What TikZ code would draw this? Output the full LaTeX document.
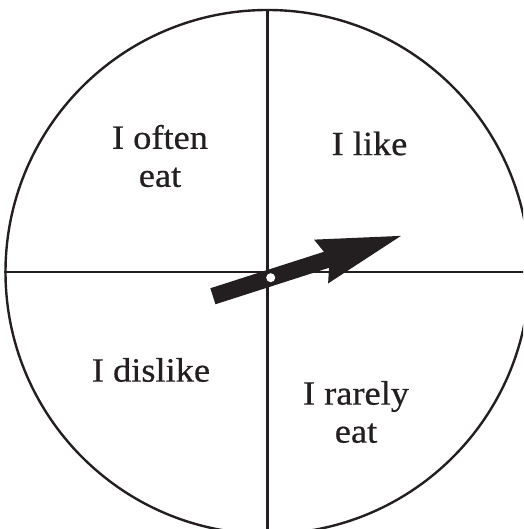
\documentclass[tikz,border=0pt]{standalone}
\usepackage{fontspec}
\setmainfont{Liberation Serif}[FakeStretch=1.07,FakeBold=0.6]
\usepackage{xcolor}
\usepackage{tikz}
\usetikzlibrary{shapes.geometric,positioning,calc}
\definecolor{spinnerInk}{HTML}{231F20}

\begin{document}
\begin{tikzpicture}[x=1pt,y=-1pt,
    rim/.style={draw=spinnerInk, line width=2.4pt},
    sector/.style={text=spinnerInk, align=center, inner sep=0pt,
                   font=\fontsize{34}{38}\selectfont}]
  \useasboundingbox (0,0) rectangle (523,529);
  \clip (0,0) rectangle (523,529);

  % the spinner face
  \node[circle, rim, minimum size=524pt, inner sep=0pt] (wheel) at (267.5,272) {};
  \draw[rim] (wheel.north) -- (wheel.south);
  \draw[rim] (wheel.west) -- (wheel.east);

  % quarters
  \node[sector] (often)   at (160,156)   {I often\\eat};
  \node[sector] (like)    at (369.5,143.5) {I like};
  \node[sector] (dislike) at (151,370)   {I dislike};
  \node[sector] (rarely)  at (356,412)   {I rarely\\eat};

  % pointer
  \begin{scope}[shift={(270.7,277.7)}, rotate=17.8]
    \fill[spinnerInk] (-60.7,-8.4) -- (58.6,-8.4) -- (52.9,-23) -- (136.8,0)
      -- (52.9,23) -- (58.6,8.4) -- (-60.7,8.4) -- cycle;
    \node[circle, fill=white, minimum size=9pt, inner sep=0pt] (pivot) at (0,0) {};
  \end{scope}
\end{tikzpicture}
\end{document}
